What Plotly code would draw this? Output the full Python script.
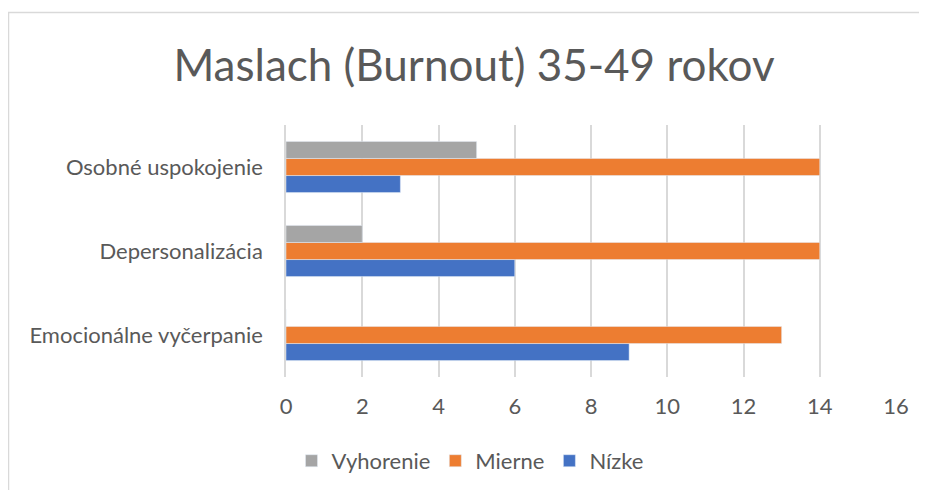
import plotly.graph_objects as go

# data
categories = ["Emocionálne vyčerpanie", "Depersonalizácia", "Osobné uspokojenie"]
nizke = [9, 6, 3]
mierne = [13, 14, 14]
vyhorenie = [0, 2, 5]
x_ticks = [0, 2, 4, 6, 8, 10, 12, 14, 16]

fig = go.Figure()
fig.add_trace(go.Bar(y=categories, x=nizke, name="Nízke", orientation="h", marker_color="#4472C4"))
fig.add_trace(go.Bar(y=categories, x=mierne, name="Mierne", orientation="h", marker_color="#ED7D31"))
fig.add_trace(go.Bar(y=categories, x=vyhorenie, name="Vyhorenie", orientation="h", marker_color="#A5A5A5"))

font = "Lato, 'Open Sans', sans-serif"

# page body has an 8px margin, so the figure is 8px smaller than the window
W, H = 919, 482

fig.update_layout(
    width=W, height=H,
    margin=dict(l=278, r=31, t=117, b=113, autoexpand=False),
    paper_bgcolor="white", plot_bgcolor="white",
    barmode="group", bargap=0.39, bargroupgap=0,
    font=dict(family=font, color="#595959", size=22),
    title=dict(text="Maslach (Burnout) 35-49 rokov", font=dict(size=44, color="#595959"),
               x=466 / W, xref="container", xanchor="center",
               y=1 - 58 / H, yref="container", yanchor="middle"),
    legend=dict(orientation="h", traceorder="reversed", x=(470 - 286) / 610, xanchor="center",
                y=-0.333, yanchor="middle", font=dict(size=22), itemwidth=30),
    showlegend=True,
)

fig.update_xaxes(range=[0, 16], tickvals=x_ticks, showgrid=True, gridcolor="#D9D9D9", gridwidth=1.5,
                 zeroline=False, showline=False, ticks="", ticklabelstandoff=14, automargin=False)
fig.update_yaxes(showgrid=False, zeroline=False, showline=True, linecolor="#D9D9D9", linewidth=1.5,
                 ticks="", ticklabelstandoff=17, automargin=False)

# outer chart border (partly cut off by the image edge)
fig.add_shape(type="rect", xref="paper", yref="paper",
              x0=(8.5 - 286) / 610, x1=(940 - 286) / 610,
              y0=(377 - 500) / 252, y1=(377 - 12.5) / 252,
              line=dict(color="#D9D9D9", width=1.5), fillcolor="rgba(0,0,0,0)", layer="below")

fig.write_html("out.html")
